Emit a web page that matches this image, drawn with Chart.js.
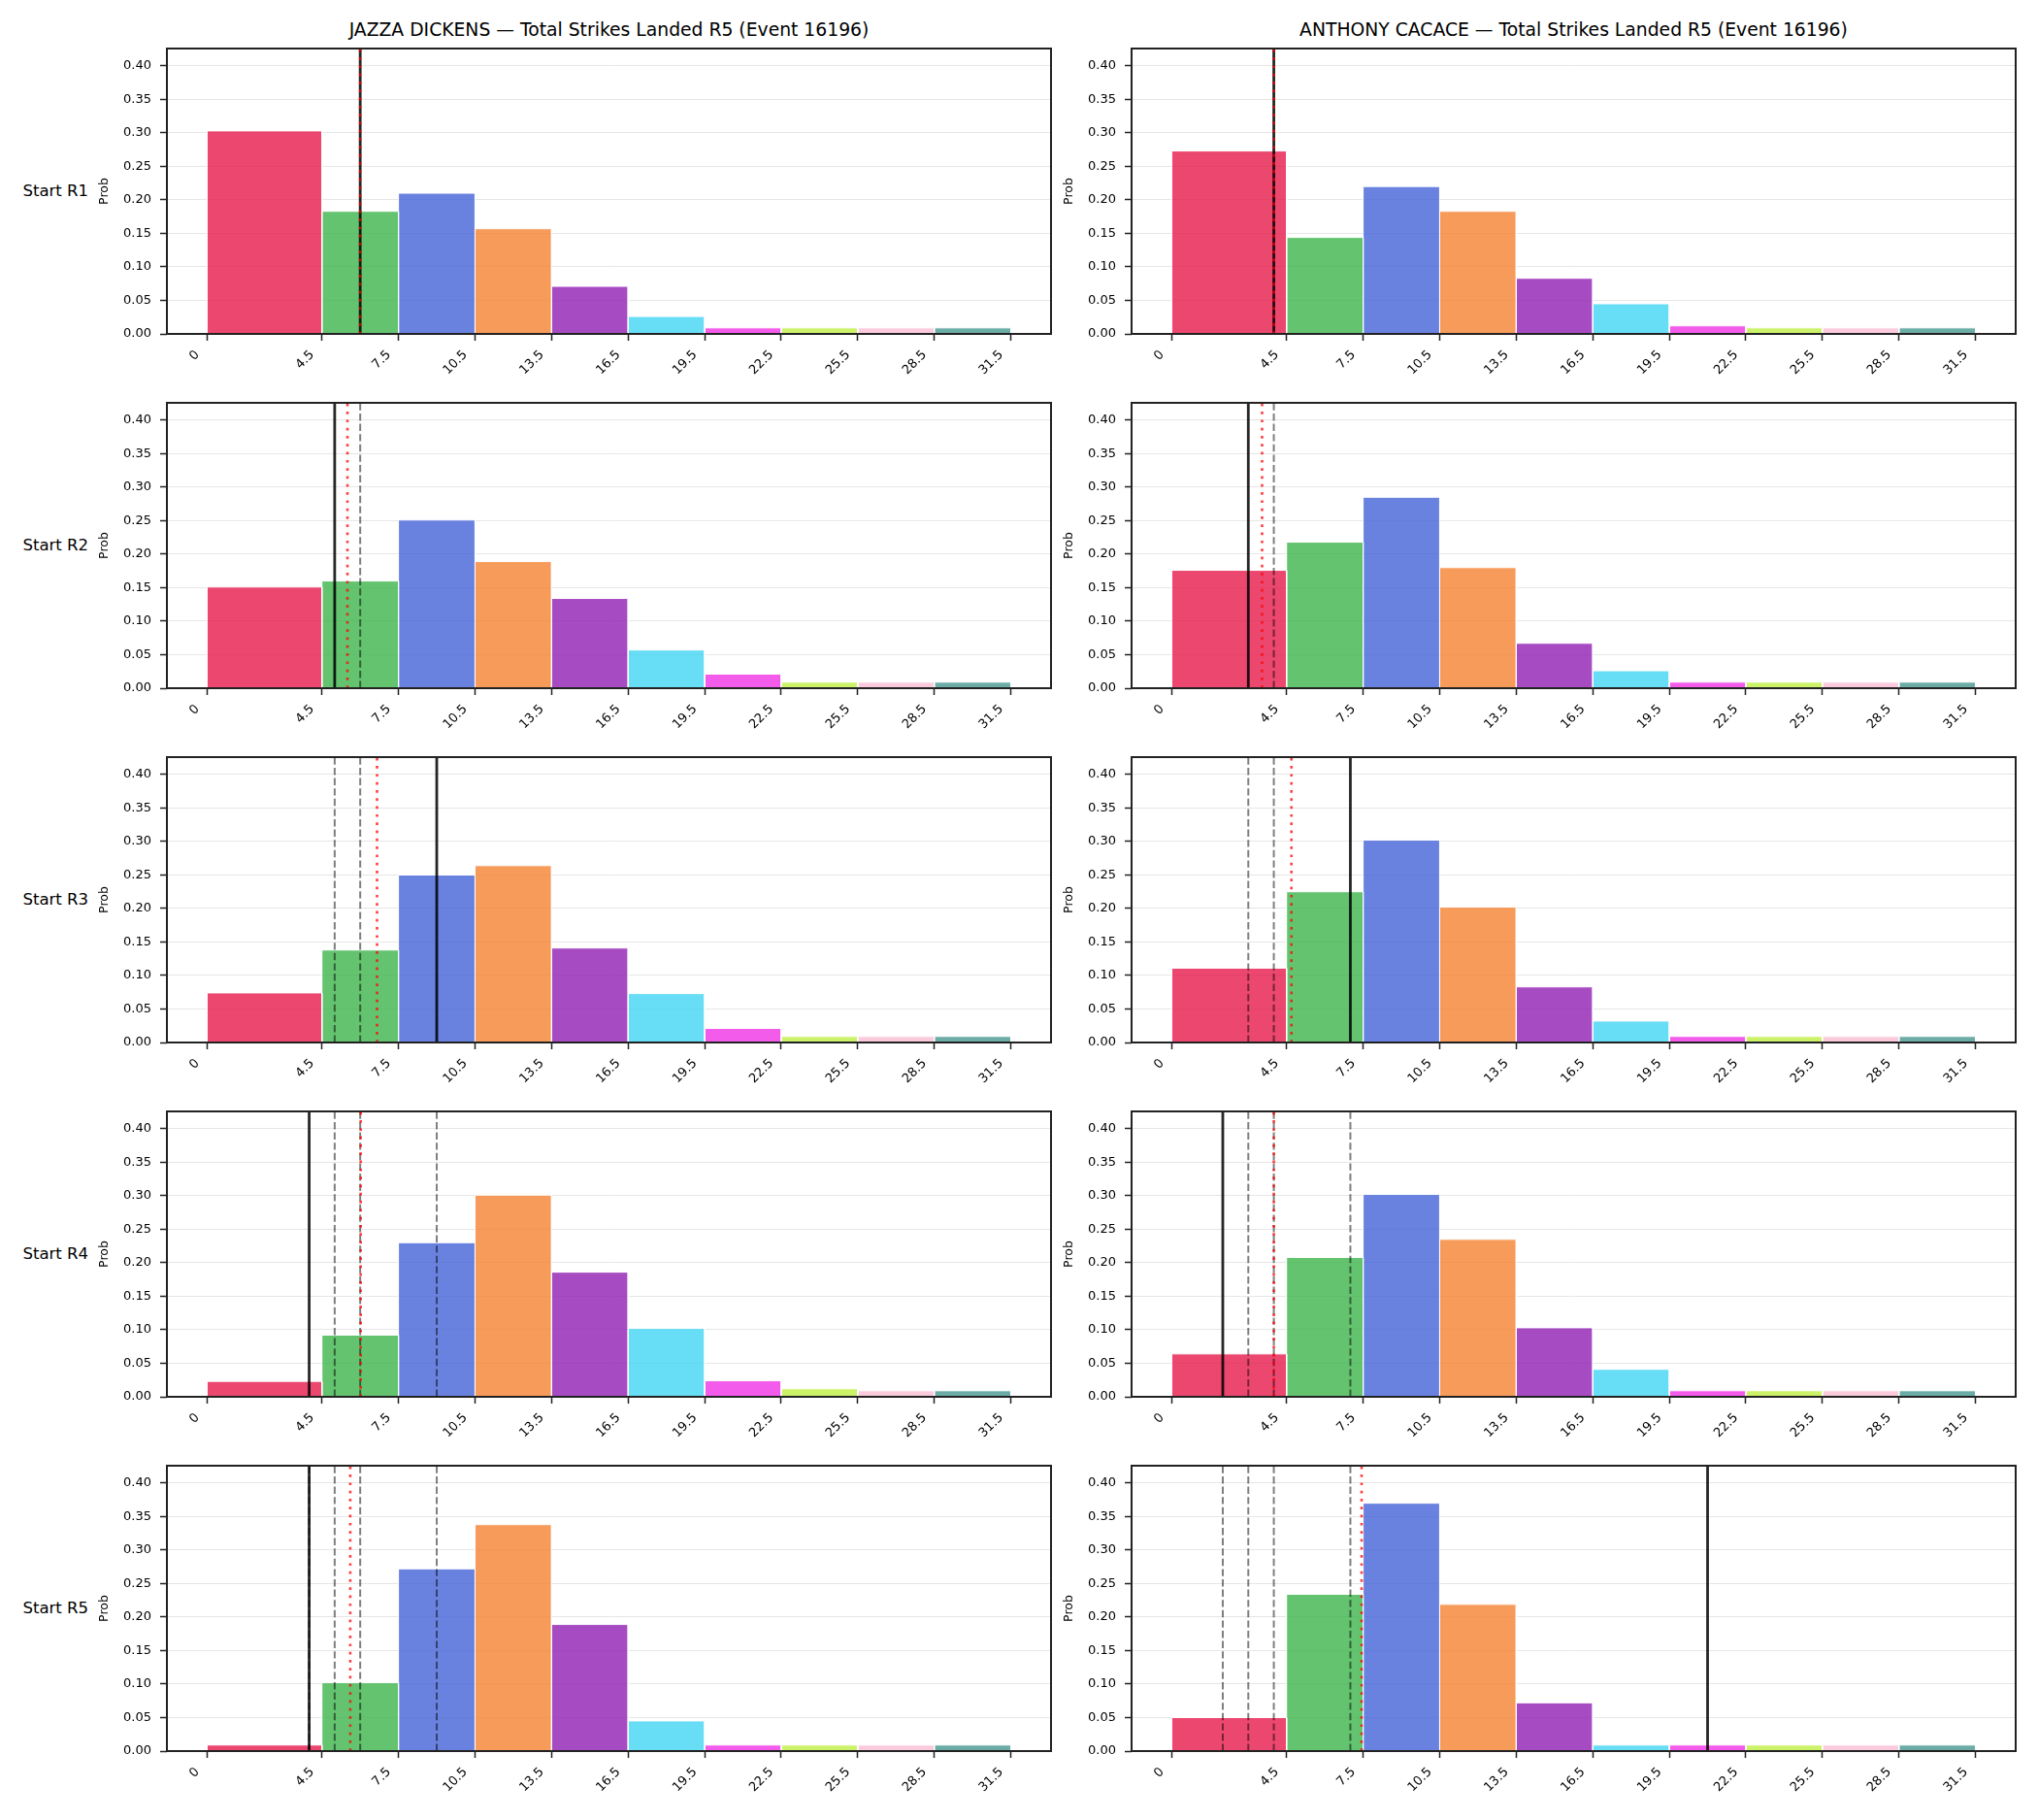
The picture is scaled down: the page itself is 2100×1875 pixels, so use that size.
<!DOCTYPE html>
<html>
<head>
<meta charset="utf-8">
<title>Total Strikes Landed R5 (Event 16196)</title>
<script src="https://cdn.jsdelivr.net/npm/chart.js@4.4.1/dist/chart.umd.min.js"></script>
<style>
    html, body { margin: 0; padding: 0; background: #fff; }
    #fig { position: relative; width: 2100px; height: 1875px; font-family: 'DejaVu Sans', sans-serif; color: #000; }
    #fig canvas { position: absolute; }
    .col-title { position: absolute; font-size: 18.75px; line-height: 24px; text-align: center; white-space: nowrap; }
    .row-label { position: absolute; font-size: 16.5px; line-height: 24px; text-align: right; white-space: nowrap; }
</style>
</head>
<body>
<div id="fig"></div>
<script>
(function() {
    'use strict';

    // Bin edges double as x tick positions
    const binEdges = [0, 4.5, 7.5, 10.5, 13.5, 16.5, 19.5, 22.5, 25.5, 28.5, 31.5];
    const xTickLabels = ['0', '4.5', '7.5', '10.5', '13.5', '16.5', '19.5', '22.5', '25.5', '28.5', '31.5'];
    const yTicks = [0, 0.05, 0.10, 0.15, 0.20, 0.25, 0.30, 0.35, 0.40];
    const binColors = ['#e6194b', '#3cb44b', '#4363d8', '#f58231', '#911eb4',
                       '#42d4f4', '#f032e6', '#bfef45', '#fabed4', '#469990'];

    const fighters = ['JAZZA DICKENS', 'ANTHONY CACACE'];
    const rowLabels = ['Start R1', 'Start R2', 'Start R3', 'Start R4', 'Start R5'];

    // Probabilities per bin, one array per start round
    const dickensR1 = [0.303, 0.183, 0.210, 0.157, 0.071, 0.026, 0.009, 0.009, 0.009, 0.009];
    const dickensR2 = [0.151, 0.160, 0.251, 0.189, 0.134, 0.057, 0.021, 0.009, 0.009, 0.009];
    const dickensR3 = [0.074, 0.138, 0.250, 0.264, 0.141, 0.073, 0.021, 0.009, 0.009, 0.009];
    const dickensR4 = [0.023, 0.092, 0.230, 0.301, 0.186, 0.102, 0.024, 0.012, 0.009, 0.009];
    const dickensR5 = [0.009, 0.102, 0.272, 0.338, 0.189, 0.045, 0.009, 0.009, 0.009, 0.009];

    const cacaceR1 = [0.273, 0.144, 0.220, 0.183, 0.083, 0.045, 0.012, 0.009, 0.009, 0.009];
    const cacaceR2 = [0.176, 0.218, 0.285, 0.180, 0.067, 0.026, 0.009, 0.009, 0.009, 0.009];
    const cacaceR3 = [0.111, 0.225, 0.302, 0.202, 0.083, 0.032, 0.009, 0.009, 0.009, 0.009];
    const cacaceR4 = [0.064, 0.208, 0.302, 0.235, 0.103, 0.041, 0.009, 0.009, 0.009, 0.009];
    const cacaceR5 = [0.050, 0.234, 0.370, 0.219, 0.072, 0.009, 0.009, 0.009, 0.009, 0.009];

    // Solid marker per start round (earlier ones reappear dashed), and the red dotted mean
    const dickensMarks = [6, 5, 9, 4, 4];
    const dickensMean = [6.0, 5.5, 6.66, 6.02, 5.61];
    const cacaceMarks = [4, 3, 7, 2, 21];
    const cacaceMean = [4.0, 3.54, 4.69, 4.0, 7.44];

    const FONT = 'DejaVu Sans';
    const X_MIN = -1.575, X_MAX = 33.075;
    const Y_MAX = 0.426;

    // Layout (axes boxes in page pixels)
    const COL_LEFT = [172, 1166];
    const ROW_TOP = [50, 415, 780, 1145, 1510];
    const AX_W = 911, AX_H = 294;
    const Y_AXIS_W = 90, X_AXIS_H = 60, PAD_T = 20, PAD_R = 10;

    const fig = document.getElementById('fig');

    function rgba(hex, a) {
        const n = parseInt(hex.slice(1), 16);
        return 'rgba(' + (n >> 16) + ',' + ((n >> 8) & 255) + ',' + (n & 255) + ',' + a + ')';
    }

    const framePlugin = {
        id: 'frame',
        afterDraw(chart) {
            const { ctx, chartArea: a } = chart;
            ctx.save();
            ctx.strokeStyle = '#222';
            ctx.lineWidth = 2;
            ctx.strokeRect(a.left, a.top, a.right - a.left, a.bottom - a.top);
            ctx.restore();
        }
    };

    function vline(x, color, width, dash, order) {
        return {
            type: 'line',
            data: [{ x: x, y: 0 }, { x: x, y: Y_MAX }],
            borderColor: color,
            borderWidth: width,
            borderDash: dash,
            pointRadius: 0,
            fill: false,
            order: order
        };
    }

    function buildDatasets(probs, marks, mean, round) {
        const datasets = [];
        probs.forEach((p, i) => {
            const lo = binEdges[i], hi = binEdges[i + 1];
            datasets.push({
                type: 'line',
                data: [{ x: lo, y: 0 }, { x: lo, y: p }, { x: hi, y: p }, { x: hi, y: 0 }],
                backgroundColor: rgba(binColors[i], 0.8),
                borderColor: '#ffffff',
                borderWidth: 1,
                borderJoinStyle: 'miter',
                pointRadius: 0,
                tension: 0,
                fill: 'origin',
                order: 10
            });
        });
        marks.slice(0, round).forEach(v => {
            datasets.push(vline(v, 'rgba(0,0,0,0.5)', 2, [7.4, 3.2], 3));
        });
        datasets.push(vline(marks[round], 'rgba(0,0,0,0.85)', 2.8, [], 2));
        datasets.push(vline(mean[round], 'rgba(255,0,0,0.75)', 2.6, [2.7, 5.6], 1));
        return datasets;
    }

    function createPanel(col, row, probs, marks, mean) {
        const canvas = document.createElement('canvas');
        const w = Y_AXIS_W + AX_W + PAD_R;
        const h = PAD_T + AX_H + X_AXIS_H;
        canvas.width = w;
        canvas.height = h;
        canvas.style.width = w + 'px';
        canvas.style.height = h + 'px';
        canvas.style.left = (COL_LEFT[col] - Y_AXIS_W) + 'px';
        canvas.style.top = (ROW_TOP[row] - PAD_T) + 'px';
        fig.appendChild(canvas);

        return new Chart(canvas, {
            type: 'line',
            data: { datasets: buildDatasets(probs, marks, mean, row) },
            options: {
                responsive: false,
                animation: false,
                devicePixelRatio: 1,
                layout: { padding: { left: 0, top: PAD_T, right: PAD_R, bottom: 0 } },
                plugins: { legend: { display: false }, tooltip: { enabled: false } },
                scales: {
                    x: {
                        type: 'linear',
                        min: X_MIN,
                        max: X_MAX,
                        afterBuildTicks: (s) => { s.ticks = binEdges.map(v => ({ value: v })); },
                        afterFit: (s) => { s.height = X_AXIS_H; },
                        ticks: {
                            autoSkip: false,
                            minRotation: 45,
                            maxRotation: 45,
                            padding: 7,
                            labelOffset: -10,
                            color: '#000',
                            font: { family: FONT, size: 13 },
                            callback: (v, i) => xTickLabels[i]
                        },
                        grid: { drawOnChartArea: false, tickColor: '#222', tickLength: 7, tickWidth: 1.5 },
                        border: { display: false }
                    },
                    y: {
                        type: 'linear',
                        min: 0,
                        max: Y_MAX,
                        afterBuildTicks: (s) => { s.ticks = yTicks.map(v => ({ value: v })); },
                        afterFit: (s) => { s.width = Y_AXIS_W; },
                        ticks: {
                            padding: 9,
                            color: '#000',
                            font: { family: FONT, size: 13 },
                            callback: (v) => v.toFixed(2)
                        },
                        grid: { color: '#e6e6e6', lineWidth: 1, tickColor: '#222', tickLength: 7, tickWidth: 1.5 },
                        border: { display: false },
                        title: {
                            display: true,
                            text: 'Prob',
                            color: '#000',
                            font: { family: FONT, size: 12.5 },
                            padding: { top: 18, bottom: 0 }
                        }
                    }
                }
            },
            plugins: [framePlugin]
        });
    }

    function addText(cls, text, left, top, width) {
        const div = document.createElement('div');
        div.className = cls;
        div.textContent = text;
        div.style.left = left + 'px';
        div.style.top = top + 'px';
        div.style.width = width + 'px';
        fig.appendChild(div);
    }

    // Column titles
    fighters.forEach((name, c) => {
        addText('col-title', name + ' \u2014 Total Strikes Landed R5 (Event 16196)', COL_LEFT[c], 19, AX_W);
    });

    // Row labels on the left column
    rowLabels.forEach((label, r) => {
        addText('row-label', label, 0, ROW_TOP[r] + AX_H / 2 - 12, 91);
    });

    const dickens = [dickensR1, dickensR2, dickensR3, dickensR4, dickensR5];
    const cacace = [cacaceR1, cacaceR2, cacaceR3, cacaceR4, cacaceR5];

    for (let r = 0; r < 5; r++) {
        createPanel(0, r, dickens[r], dickensMarks, dickensMean);
        createPanel(1, r, cacace[r], cacaceMarks, cacaceMean);
    }
})();
</script>
</body>
</html>
